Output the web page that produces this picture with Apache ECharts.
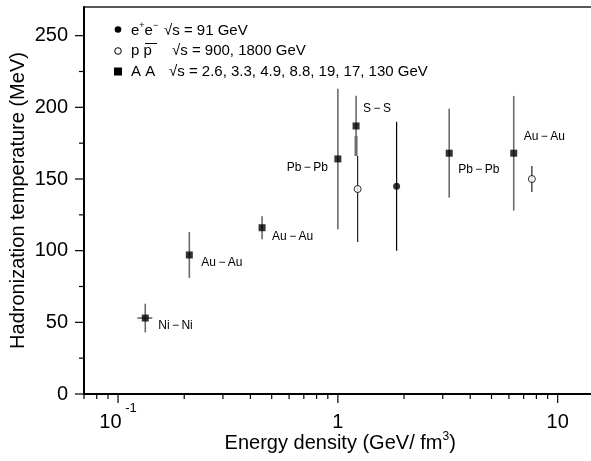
<!DOCTYPE html>
<html><head><meta charset="utf-8">
<script src="https://cdn.jsdelivr.net/npm/echarts@6/dist/echarts.min.js"></script>
<style>html,body{margin:0;padding:0;background:#fff}#c{width:591px;height:461px}</style>
</head><body><div id="c"></div><script>
// ---- data ----
const eeX = [1.85];
const eeY = [145];
const eeLow = [100];
const eeHigh = [190];

const ppX = [1.23, 7.63];
const ppY = [143, 150];
const ppLow = [106, 141];
const ppHigh = [166, 159];

const aaX = [0.133, 0.211, 0.452, 1.0, 1.21, 3.21, 6.31];
const aaY = [53, 97, 116, 164, 187, 168, 168];
const aaLow = [43, 81, 108, 115, 166, 137, 128];
const aaHigh = [63, 113, 124, 213, 208, 199, 208];
const aaXLow = [0.1224, null, null, null, null, null, null];
const aaXHigh = [0.1432, null, null, null, null, null, null];
const aaSysLow = [null, null, null, null, 166, null, null];
const aaSysHigh = [null, null, null, null, 180, null, null];
const aaNames = ['Ni\u2009\u2212\u2009Ni', 'Au\u2009\u2212\u2009Au', 'Au\u2009\u2212\u2009Au', 'Pb\u2009\u2212\u2009Pb', 'S\u2009\u2212\u2009S', 'Pb\u2009\u2212\u2009Pb', 'Au\u2009\u2212\u2009Au'];

const xMajorTicks = [0.1, 1, 10];
const xMinorTicks = [0.07, 0.08, 0.09, 0.2, 0.3, 0.4, 0.5, 0.6, 0.7, 0.8, 0.9, 2, 3, 4, 5, 6, 7, 8, 9];
const yMajorTicks = [0, 50, 100, 150, 200, 250];
const yMinorTicks = [25, 75, 125, 175, 225];

const legendSymbols = ['e{sup|+}e{sup|\u2212}', 'p p', 'A A'];
const legendTexts = ['\u221As = 91 GeV', '\u221As = 900, 1800 GeV', '\u221As = 2.6, 3.3, 4.9, 8.8, 19, 17, 130 GeV'];

// ---- layout (not data) ----
const FONT = 'Liberation Sans, Arial, sans-serif';
const X_MIN = 0.07, X_MAX = 15, Y_MIN = 0, Y_MAX = 270;
const labelPlacement = [[13, 8, 'left'], [12, 8, 'left'], [10, 9, 'left'], [-10, 9, 'right'], [7, -17, 'left'], [9, 16, 'left'], [10, -17, 'left']];

function isDecade(v) {
  const l = Math.log10(v);
  return Math.abs(l - Math.round(l)) < 1e-6;
}

function tickSeries(data, horizontal, len, width) {
  return {
    type: 'custom', clip: false, silent: true, z: 5,
    data: data,
    renderItem: function (params, api) {
      const p = api.coord([api.value(0), api.value(1)]);
      const shape = horizontal
        ? { x1: p[0], y1: p[1], x2: p[0] - len, y2: p[1] }
        : { x1: p[0], y1: p[1], x2: p[0], y2: p[1] + len };
      return { type: 'line', shape: shape, style: { stroke: '#000', lineWidth: width } };
    }
  };
}

function vErrSeries(data, color, width, z) {
  return {
    type: 'custom', clip: false, silent: true, z: z || 2,
    data: data,
    renderItem: function (params, api) {
      const x = api.value(0);
      const a = api.coord([x, api.value(1)]);
      const b = api.coord([x, api.value(2)]);
      return { type: 'line', shape: { x1: a[0], y1: a[1], x2: b[0], y2: b[1] }, style: { stroke: color, lineWidth: width } };
    }
  };
}

const aaErr = aaX.map((x, i) => [x, aaLow[i], aaHigh[i]]);
const aaSys = aaX.map((x, i) => [x, aaSysLow[i], aaSysHigh[i]]).filter(d => d[1] != null);
const aaXErr = aaX.map((x, i) => [aaXLow[i], aaXHigh[i], aaY[i]]).filter(d => d[0] != null);

const chart = echarts.init(document.getElementById('c'), null, { renderer: 'canvas' });

const legendGraphics = [];
const rowY = [30.5, 51, 71.5];
const col2 = [164, 172, 169];
legendGraphics.push({ type: 'circle', shape: { cx: 118, cy: 29.5, r: 3.3 }, style: { fill: '#000' } });
legendGraphics.push({ type: 'circle', shape: { cx: 118, cy: 51, r: 3.3 }, style: { fill: '#fff', stroke: '#000', lineWidth: 1 } });
legendGraphics.push({ type: 'rect', shape: { x: 114, y: 67.5, width: 8, height: 8 }, style: { fill: '#000' } });
legendGraphics.push({ type: 'line', shape: { x1: 145, y1: 43.5, x2: 157, y2: 43.5 }, style: { stroke: '#000', lineWidth: 1 } });
for (let i = 0; i < 3; i++) {
  legendGraphics.push({
    type: 'text', x: 131, y: rowY[i],
    style: { text: legendSymbols[i], font: '15px ' + FONT, fill: '#000', verticalAlign: 'middle', lineHeight: 17,
      rich: { sup: { fontSize: 9, fontFamily: FONT, padding: [0, 0, 10, 0] } } }
  });
  legendGraphics.push({
    type: 'text', x: col2[i], y: rowY[i],
    style: { text: legendTexts[i], font: '15px ' + FONT, fill: '#000', verticalAlign: 'middle' }
  });
}

const option = {
  backgroundColor: '#fff',
  animation: false,
  grid: { left: 84, top: 7, right: -5.4, bottom: 67, show: true, borderColor: '#222', borderWidth: 1.5,
    backgroundColor: 'transparent', containLabel: false, outerBoundsMode: 'none' },
  xAxis: {
    type: 'log', logBase: 10, min: X_MIN, max: X_MAX,
    axisLine: { show: true, lineStyle: { color: '#000', width: 2 } },
    axisTick: { show: false },
    splitLine: { show: false },
    axisLabel: {
      margin: 18, color: '#000', fontSize: 20, fontFamily: FONT, lineHeight: 20,
      formatter: function (v) {
        if (!isDecade(v)) return '';
        const e = Math.round(Math.log10(v));
        if (e < 0) return '10{sup| ' + e + '}';
        return String(Math.round(v));
      },
      rich: { sup: { fontSize: 13, fontFamily: FONT, padding: [0, 0, 27, 0] } }
    },
    name: 'Energy density (GeV/ fm{sup|3})', nameLocation: 'middle', nameGap: 38, nameMoveOverlap: false,
    nameTextStyle: { fontSize: 20, fontFamily: FONT, color: '#000', lineHeight: 22,
      rich: { sup: { fontSize: 12, fontFamily: FONT, padding: [0, 0, 12, 0] } } }
  },
  yAxis: {
    type: 'value', min: Y_MIN, max: Y_MAX, interval: 50,
    axisLine: { show: true, lineStyle: { color: '#000', width: 2 } },
    axisTick: { show: false },
    splitLine: { show: false },
    axisLabel: {
      margin: 16, color: '#000', fontSize: 20, fontFamily: FONT,
      formatter: function (v) { return (v % 50 === 0 && v <= 250) ? String(v) : ''; }
    },
    name: 'Hadronization temperature (MeV)', nameLocation: 'middle', nameGap: 56, nameMoveOverlap: false,
    nameTextStyle: { fontSize: 20, fontFamily: FONT, color: '#000' }
  },
  graphic: legendGraphics,
  series: [
    tickSeries(xMajorTicks.map(v => [v, Y_MIN]), false, 9, 1.2),
    tickSeries(xMinorTicks.map(v => [v, Y_MIN]), false, 5, 1.2),
    tickSeries(yMajorTicks.map(v => [X_MIN, v]), true, 9, 1.2),
    tickSeries(yMinorTicks.map(v => [X_MIN, v]), true, 5, 1.2),
    vErrSeries(aaErr, '#6a6a6a', 1.6),
    vErrSeries(aaSys, '#6a6a6a', 3, 3),
    {
      type: 'custom', clip: false, silent: true, z: 2, data: aaXErr,
      renderItem: function (params, api) {
        const a = api.coord([api.value(0), api.value(2)]);
        const b = api.coord([api.value(1), api.value(2)]);
        return { type: 'line', shape: { x1: a[0], y1: a[1], x2: b[0], y2: b[1] }, style: { stroke: '#333', lineWidth: 1.2 } };
      }
    },
    vErrSeries(eeX.map((x, i) => [x, eeLow[i], eeHigh[i]]), '#000', 1.2),
    vErrSeries(ppX.map((x, i) => [x, ppLow[i], ppHigh[i]]), '#222', 1.2),
    { type: 'scatter', name: 'ee', symbol: 'circle', symbolSize: 7, z: 10,
      itemStyle: { color: '#000' }, data: eeX.map((x, i) => [x, eeY[i]]) },
    { type: 'scatter', name: 'pp', symbol: 'circle', symbolSize: 7, z: 10,
      itemStyle: { color: '#fff', borderColor: '#000', borderWidth: 1 }, data: ppX.map((x, i) => [x, ppY[i]]) },
    { type: 'scatter', name: 'AA', symbol: 'rect', symbolSize: 7, z: 10,
      itemStyle: { color: '#000' }, data: aaX.map((x, i) => [x, aaY[i]]) },
    {
      type: 'custom', clip: false, silent: true, z: 11,
      data: aaX.map((x, i) => [x, aaY[i], i]),
      renderItem: function (params, api) {
        const i = api.value(2);
        const p = api.coord([api.value(0), api.value(1)]);
        const pl = labelPlacement[i];
        return { type: 'text', x: p[0] + pl[0], y: p[1] + pl[1],
          style: { text: aaNames[i], font: '12px ' + FONT, fill: '#000', align: pl[2], verticalAlign: 'middle' } };
      }
    }
  ]
};
chart.setOption(option);
</script></body></html>
